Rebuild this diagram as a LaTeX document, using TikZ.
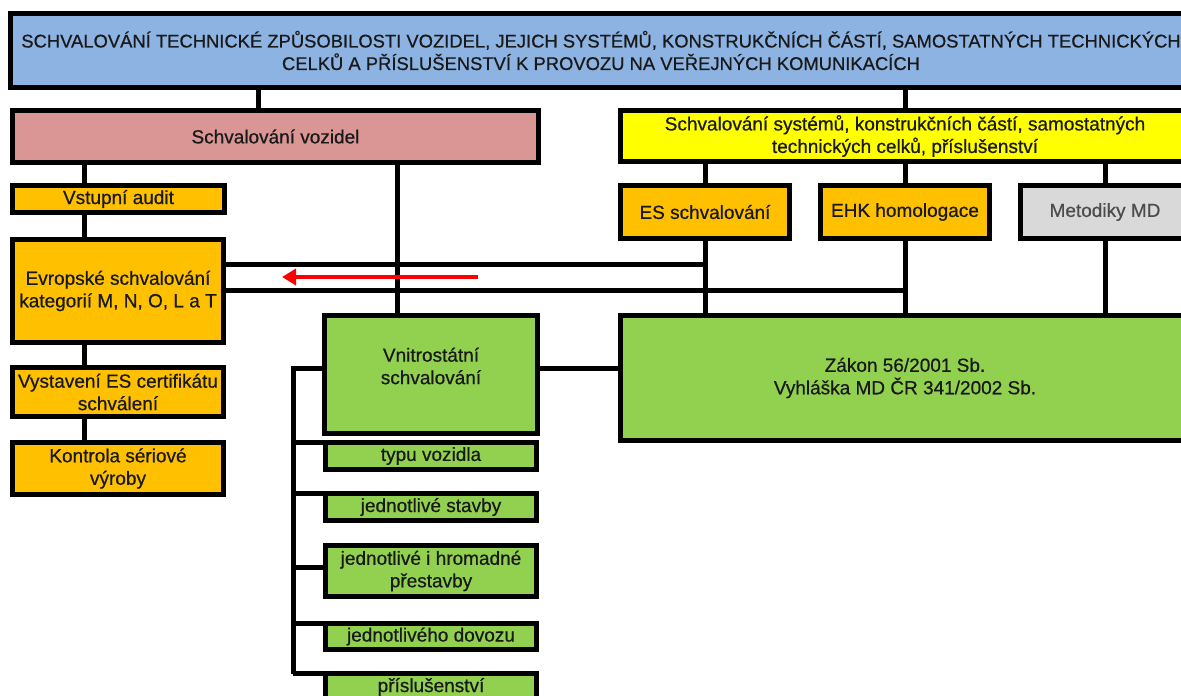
\documentclass[tikz,border=0pt]{standalone}
\usepackage{fontspec}
\setmainfont{Liberation Sans}[RawFeature={embolden=0.6}]
\usetikzlibrary{arrows.meta}

\definecolor{modra}{HTML}{8DB3E2}
\definecolor{ruzova}{HTML}{D99694}
\definecolor{zluta}{HTML}{FFFF00}
\definecolor{oranzova}{HTML}{FFC000}
\definecolor{seda}{HTML}{D9D9D9}
\definecolor{zelena}{HTML}{92D050}

\begin{document}
\begin{tikzpicture}[x=1pt, y=-1pt,
   box/.style={draw, line width=5pt, inner sep=0pt, outer sep=0pt, align=center,
      font=\fontsize{19}{22.5}\selectfont, text=black!90},
   conn/.style={line width=5pt},
   sipka/.style={draw=red, line width=4.5pt, -{Triangle[length=14pt, width=16pt]}}]

\useasboundingbox (0,0) rectangle (1181,696);

\node[box, fill=modra, minimum width=1181, minimum height=74, font=\fontsize{18.4}{22.5}\selectfont] (banner) at (601,50.5)
   {SCHVALOVÁNÍ TECHNICKÉ ZPŮSOBILOSTI VOZIDEL, JEJICH SYSTÉMŮ, KONSTRUKČNÍCH ČÁSTÍ, SAMOSTATNÝCH TECHNICKÝCH\\
    CELKŮ A PŘÍSLUŠENSTVÍ K PROVOZU NA VEŘEJNÝCH KOMUNIKACÍCH};

\node[box, fill=ruzova, minimum width=526, minimum height=52] (vozidla) at (275.5,136.5) {Schvalování vozidel};
\node[box, fill=zluta, minimum width=569, minimum height=51] (systemy) at (905,136)
   {Schvalování systémů, konstrukčních částí, samostatných\\technických celků, příslušenství};

\node[box, fill=oranzova, minimum width=212, minimum height=27] (audit) at (118.5,199) {Vstupní audit};
\node[box, fill=oranzova, minimum width=211, minimum height=103] (evropske) at (118,291)
   {Evropské schvalování\\kategorií M, N, O, L a T};
\node[box, fill=oranzova, minimum width=211, minimum height=49] (certifikat) at (118,392)
   {Vystavení ES certifikátu\\schválení};
\node[box, fill=oranzova, minimum width=211, minimum height=52] (kontrola) at (118,468.5)
   {Kontrola sériové\\výroby};

\node[box, fill=oranzova, minimum width=169, minimum height=53] (es) at (705,212) {ES schvalování};
\node[box, fill=oranzova, minimum width=169, minimum height=53] (ehk) at (905,212) {EHK homologace};
\node[box, fill=seda, minimum width=169, minimum height=53, text=black!70] (metodiky) at (1105,212) {Metodiky MD};

\node[box, fill=zelena, minimum width=569, minimum height=125] (zakon) at (905,378)
   {Zákon 56/2001 Sb.\\Vyhláška MD ČR 341/2002 Sb.};
\node[box, fill=zelena, minimum width=213, minimum height=118] (vnitro) at (431,374.5) {};
\node[box, draw=none, fill=none] (vnitrotxt) at (431,366) {Vnitrostátní\\schvalování};

\node[box, fill=zelena, minimum width=211, minimum height=27] (typu) at (431,456) {typu vozidla};
\node[box, fill=zelena, minimum width=211, minimum height=27] (stavby) at (431,507) {jednotlivé stavby};
\node[box, fill=zelena, minimum width=211, minimum height=51] (hromadne) at (431,571)
   {jednotlivé i hromadné\\přestavby};
\node[box, fill=zelena, minimum width=211, minimum height=26] (dovozu) at (431,636.5) {jednotlivého dovozu};
\node[box, fill=zelena, minimum width=211, minimum height=27] (prislus) at (431,687) {příslušenství};

\draw[conn] (banner.south -| 258,0) -- (vozidla.north -| 258,0);
\draw[conn] (banner.south -| systemy) -- (systemy.north);
\draw[conn] (vozidla.south -| 84,0) -- (audit.north -| 84,0);
\draw[conn] (audit.south -| 84,0) -- (evropske.north -| 84,0);
\draw[conn] (evropske.south -| 84,0) -- (certifikat.north -| 84,0);
\draw[conn] (certifikat.south -| 84,0) -- (kontrola.north -| 84,0);
\draw[conn] (vozidla.south -| 397,0) -- (vnitro.north -| 397,0);

\foreach \n in {es,ehk,metodiky}{
   \draw[conn] (systemy.south -| \n) -- (\n.north);
   \draw[conn] (\n.south) -- (zakon.north -| \n);
}

\draw[conn] (evropske.east |- 0,264) -- (es.south |- 0,264);
\draw[conn] (evropske.east |- 0,290) -- (ehk.south |- 0,290);
\draw[conn] (vnitro.east |- 0,368) -- (zakon.west |- 0,368);

\coordinate (rozcesti) at (293,368);
\draw[conn] (vnitro.west |- rozcesti) -- (rozcesti) -- (rozcesti |- prislus.north);
\foreach \n in {typu,stavby,dovozu,prislus}
   \draw[conn] (rozcesti |- \n.north) -- (\n.north west);
\draw[conn] (rozcesti |- 0,567) -- (hromadne.west |- 0,567);

\coordinate (sipkaA) at (478,277);
\coordinate (sipkaB) at (282,277);
\draw[sipka] (sipkaA) -- (sipkaB);

\end{tikzpicture}
\end{document}
